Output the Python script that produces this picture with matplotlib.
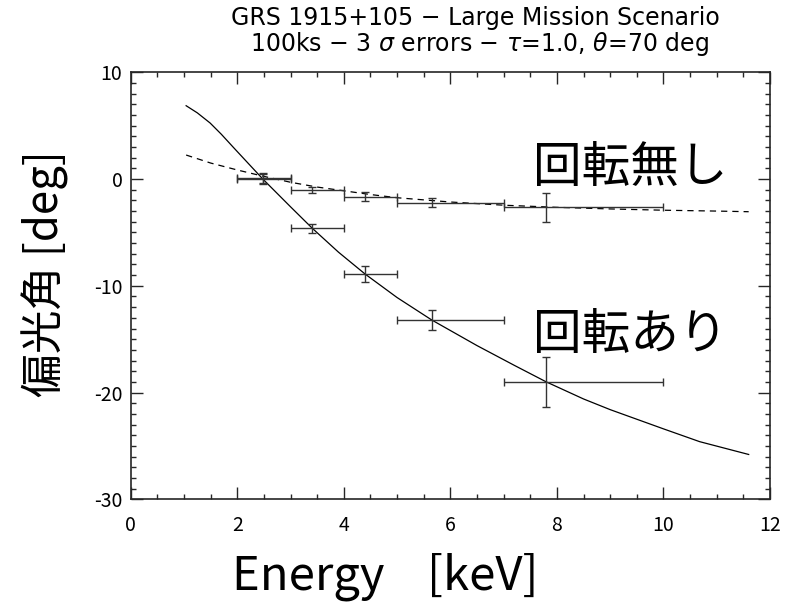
import matplotlib
matplotlib.use("Agg")
import matplotlib.pyplot as plt

plt.rcParams["font.family"] = ["Noto Sans CJK JP", "DejaVu Sans"]
plt.rcParams["axes.unicode_minus"] = False

# Model curve with rotation (solid)
rot_x = [1.04, 1.25, 1.49, 1.7, 1.93, 2.2, 2.48, 3.0, 3.41, 3.9, 4.4, 5.0,
         5.65, 6.5, 7.2, 7.8, 8.5, 9.0, 10.0, 10.68, 11.6]
rot_y = [6.87, 6.2, 5.25, 4.2, 2.95, 1.5, 0.0, -2.6, -4.62, -6.85, -8.9, -11.1,
         -13.2, -15.6, -17.45, -19.0, -20.6, -21.6, -23.4, -24.6, -25.8]

# Model curve without rotation (dashed)
norot_x = [1.04, 1.5, 2.0, 2.5, 3.0, 3.5, 4.0, 4.5, 5.0, 6.0, 7.0, 8.0, 9.0,
           10.0, 11.0, 11.6]
norot_y = [2.25, 1.5, 0.85, 0.25, -0.3, -0.75, -1.1, -1.45, -1.75, -2.15,
           -2.45, -2.65, -2.8, -2.92, -3.0, -3.06]

# Simulated measurements: energy, bin edges, angle, 3 sigma error
pt_x = [2.48, 3.41, 4.40, 5.65, 7.80]
bin_lo = [2.0, 3.0, 4.0, 5.0, 7.0]
bin_hi = [3.0, 4.0, 5.0, 7.0, 10.0]
rot_pt = [0.0, -4.62, -8.9, -13.2, -19.0]
rot_err = [0.45, 0.45, 0.73, 0.9, 2.35]
norot_pt = [0.1, -1.03, -1.66, -2.22, -2.66]
norot_err = [0.45, 0.3, 0.42, 0.42, 1.36]

xerr = [[x - lo for x, lo in zip(pt_x, bin_lo)],
        [hi - x for x, hi in zip(pt_x, bin_hi)]]

fig = plt.figure(figsize=(8.05, 6.05), dpi=100)
ax = fig.add_axes([0.1624, 0.1747, 0.7941, 0.7058])

ax.plot(rot_x, rot_y, color="black", lw=0.9)
ax.plot(norot_x, norot_y, color="black", lw=0.9, dashes=(5, 4))
for yv, ye in ((rot_pt, rot_err), (norot_pt, norot_err)):
    ax.errorbar(pt_x, yv, xerr=xerr, yerr=ye, fmt="none", ecolor="0.2",
                elinewidth=1.0, capsize=3, capthick=1.0)

ax.text(7.55, 1.0, "回転無し", fontsize=35, ha="left", va="center")
ax.text(7.55, -14.6, "回転あり", fontsize=35, ha="left", va="center")

ax.set_xlim(0, 12)
ax.set_ylim(-30, 10)
ax.set_xticks(range(0, 13, 2))
ax.set_yticks([-30, -20, -10, 0, 10])
ax.set_xticks([i * 0.5 for i in range(25)], minor=True)
ax.set_yticks(range(-30, 11), minor=True)
ax.tick_params(which="both", direction="in", top=True, right=True,
               width=1.0, color="0.15")
ax.tick_params(which="major", length=8.6)
ax.tick_params(which="minor", length=3.6)
ax.tick_params(axis="x", labelsize=14, pad=11)
ax.tick_params(axis="y", labelsize=14, pad=6)
for s in ax.spines.values():
    s.set_linewidth(1.2)
    s.set_color("0.15")

fig.text(0.59, 0.97, "GRS 1915+105 \u2212 Large Mission Scenario",
         ha="center", va="center", fontsize=17, family="DejaVu Sans")
fig.text(0.596, 0.927,
         r"100ks $-$ 3 $\sigma$ errors $-$ $\tau$=1.0, $\theta$=70 deg",
         ha="center", va="center", fontsize=17, family="DejaVu Sans")
fig.text(0.478, 0.046, "Energy    [keV]", ha="center", va="center",
         fontsize=34)
fig.text(0.056, 0.548, "偏光角 [deg]", ha="center", va="center",
         rotation=90, fontsize=31.5)

fig.savefig("out.png", dpi=100)
